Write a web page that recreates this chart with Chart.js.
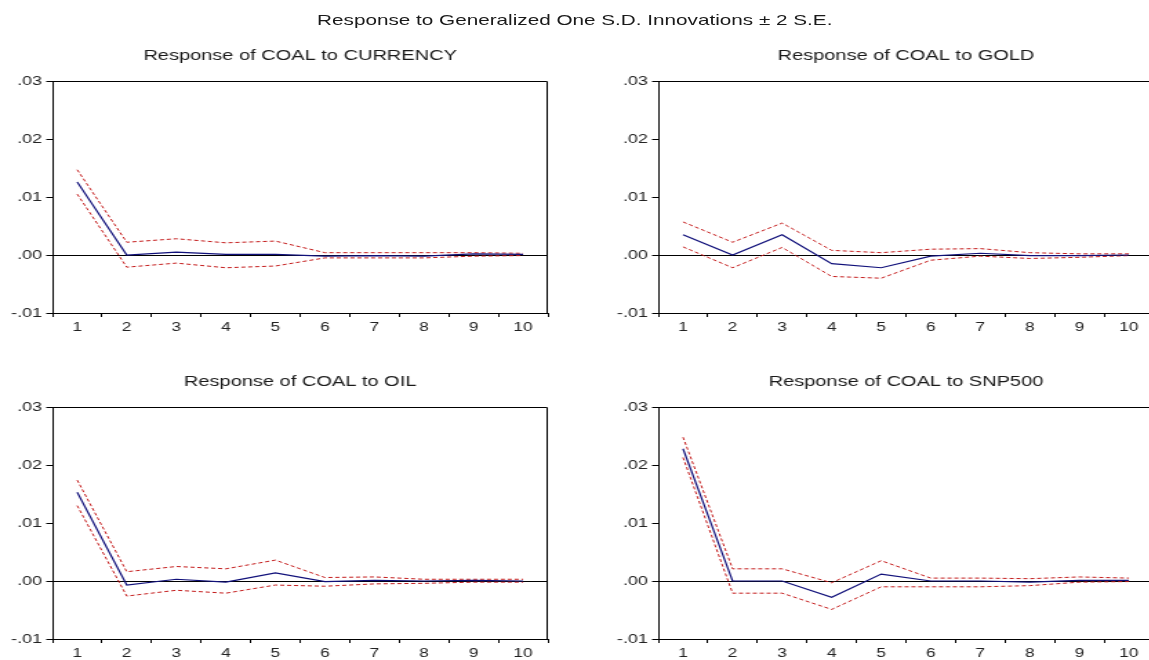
<!DOCTYPE html>
<html>
<head>
<meta charset="utf-8">
<script src="https://cdn.jsdelivr.net/npm/chart.js@4/dist/chart.umd.min.js"></script>
<style>
  html, body { margin: 0; padding: 0; background: #fff; overflow: hidden; width: 1149px; height: 660px; }
  /* the whole figure is laid out narrow and widened horizontally */
  #stage { position: absolute; left: 0; top: 0; width: 833px; height: 660px; transform: scaleX(1.38); transform-origin: 0 0; }
  #heading { position: absolute; left: 0; top: 11px; width: 833px; text-align: center; white-space: nowrap;
             font: 15px "Liberation Sans", Arial, sans-serif; line-height: 18px; color: #1a1a1a; }
  canvas { position: absolute; }
</style>
</head>
<body>
<div id="stage">
  <div id="heading">Response to Generalized One S.D. Innovations ± 2 S.E.</div>
  <canvas id="p1" width="398" height="303" style="left:2px;top:36px"></canvas>
  <canvas id="p2" width="398" height="303" style="left:441px;top:36px"></canvas>
  <canvas id="p3" width="398" height="303" style="left:2px;top:362px"></canvas>
  <canvas id="p4" width="398" height="303" style="left:441px;top:362px"></canvas>
</div>
<script>
// Forecast horizon (periods after the shock)
const periods = ['1', '2', '3', '4', '5', '6', '7', '8', '9', '10'];

// Vertical axis ticks
const yTickValues = [-0.01, 0.00, 0.01, 0.02, 0.03];
const yTickLabels = ['-.01', '.00', '.01', '.02', '.03'];

// Response of COAL to CURRENCY
const currencyResp  = [0.0126, 0.0000, 0.0005, 0.0001, 0.0001, -0.0002, -0.0001, -0.0002, 0.0002, 0.0001];
const currencyUpper = [0.0147, 0.0022, 0.0028, 0.0021, 0.0024, 0.0004, 0.0004, 0.0004, 0.0004, 0.0003];
const currencyLower = [0.0105, -0.0021, -0.0014, -0.0022, -0.0019, -0.0005, -0.0005, -0.0005, -0.0002, -0.0001];

// Response of COAL to GOLD
const goldResp  = [0.0035, 0.0000, 0.0035, -0.0015, -0.0022, -0.0002, 0.0003, -0.0001, -0.0001, 0.0000];
const goldUpper = [0.0057, 0.0022, 0.0055, 0.0008, 0.0004, 0.0010, 0.0011, 0.0004, 0.0002, 0.0002];
const goldLower = [0.0014, -0.0022, 0.0013, -0.0037, -0.0040, -0.0009, -0.0002, -0.0006, -0.0004, -0.0001];

// Response of COAL to OIL
const oilResp  = [0.0153, -0.0007, 0.0003, -0.0002, 0.0014, -0.0001, 0.0001, 0.0000, 0.0001, 0.0000];
const oilUpper = [0.0174, 0.0016, 0.0025, 0.0021, 0.0036, 0.0006, 0.0007, 0.0003, 0.0003, 0.0003];
const oilLower = [0.0130, -0.0026, -0.0016, -0.0021, -0.0007, -0.0009, -0.0005, -0.0004, -0.0002, -0.0002];

// Response of COAL to SNP500
const snpResp  = [0.0228, 0.0000, 0.0000, -0.0028, 0.0012, 0.0000, 0.0000, -0.0002, 0.0001, 0.0001];
const snpUpper = [0.0248, 0.0021, 0.0021, -0.0003, 0.0035, 0.0005, 0.0005, 0.0004, 0.0007, 0.0005];
const snpLower = [0.0213, -0.0021, -0.0021, -0.0049, -0.0010, -0.0010, -0.0010, -0.0008, -0.0002, -0.0001];

const panelTitles = [
  'Response of COAL to CURRENCY',
  'Response of COAL to GOLD',
  'Response of COAL to OIL',
  'Response of COAL to SNP500'
];

const FONT = '"Liberation Sans", Arial, sans-serif';
const RESP_COLOR = '#10107a';
const BAND_COLOR = '#c41c1c';

// Closes the plot box on the top and right sides
const boxFrame = {
  id: 'boxFrame',
  afterDatasetsDraw(chart) {
    const { ctx, chartArea: a } = chart;
    const top = Math.round(a.top) + 0.5;
    const right = Math.round(a.right) - 0.5;
    ctx.save();
    ctx.strokeStyle = '#000';
    ctx.lineWidth = 1;
    ctx.beginPath();
    ctx.moveTo(a.left, top);
    ctx.lineTo(right, top);
    ctx.lineTo(right, a.bottom);
    ctx.stroke();
    ctx.restore();
  }
};

function buildPanel(id, title, resp, upper, lower) {
  const band = (data) => ({
    data,
    borderColor: BAND_COLOR,
    borderWidth: 1,
    borderDash: [3, 2],
    pointRadius: 0,
    tension: 0,
    fill: false
  });
  return new Chart(document.getElementById(id), {
    type: 'line',
    data: {
      labels: periods,
      datasets: [
        { data: resp, borderColor: RESP_COLOR, borderWidth: 1.2, pointRadius: 0, tension: 0, fill: false },
        band(upper),
        band(lower)
      ]
    },
    plugins: [boxFrame],
    options: {
      responsive: false,
      animation: false,
      devicePixelRatio: 1,
      layout: { padding: { left: 0, right: 3, top: 0, bottom: 0 }, autoPadding: false },
      plugins: {
        legend: { display: false },
        tooltip: { enabled: false },
        title: {
          display: true,
          fullSize: false,
          text: title,
          color: '#1a1a1a',
          font: { family: FONT, size: 14.5, weight: 'normal' },
          padding: { top: 11, bottom: 16.6 }
        }
      },
      scales: {
        x: {
          type: 'category',
          offset: true,
          afterFit(scale) { scale.height = 26; },
          border: { display: true, color: '#000', width: 1 },
          grid: { offset: true, drawOnChartArea: false, drawTicks: true, tickLength: 4, tickColor: '#000' },
          ticks: { color: '#222', font: { family: FONT, size: 12.5 }, padding: 3, maxRotation: 0, autoSkip: false }
        },
        y: {
          type: 'linear',
          min: -0.01,
          max: 0.03,
          afterFit(scale) { scale.width = 36; },
          afterBuildTicks(scale) { scale.ticks = yTickValues.map(v => ({ value: v })); },
          border: { display: true, color: '#000', width: 1 },
          grid: {
            drawOnChartArea: true,
            drawTicks: true,
            tickLength: 4.5,
            tickColor: '#000',
            color: (c) => (c.tick && Math.abs(c.tick.value) < 1e-9 ? '#000' : 'rgba(0,0,0,0)'),
            lineWidth: 1
          },
          ticks: {
            color: '#222',
            font: { family: FONT, size: 13 },
            padding: 3,
            callback: (value, index) => yTickLabels[index]
          }
        }
      }
    }
  });
}

buildPanel('p1', panelTitles[0], currencyResp, currencyUpper, currencyLower);
buildPanel('p2', panelTitles[1], goldResp, goldUpper, goldLower);
buildPanel('p3', panelTitles[2], oilResp, oilUpper, oilLower);
buildPanel('p4', panelTitles[3], snpResp, snpUpper, snpLower);
</script>
</body>
</html>
